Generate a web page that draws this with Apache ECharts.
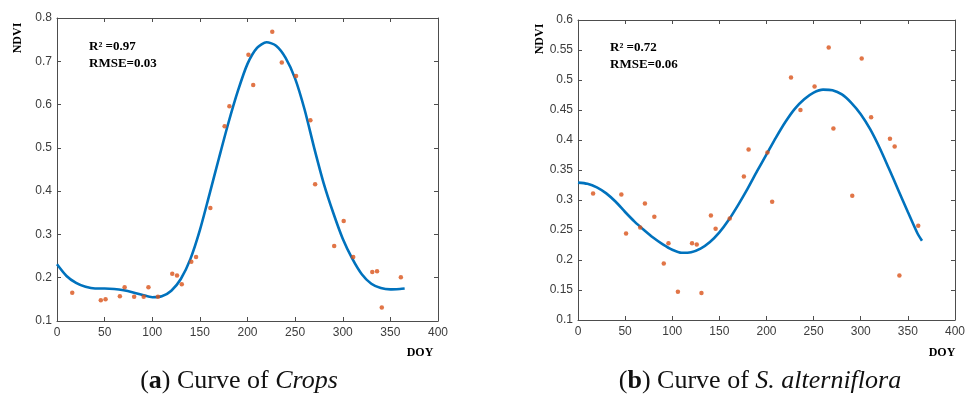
<!DOCTYPE html>
<html>
<head>
<meta charset="utf-8">
<script src="https://cdn.jsdelivr.net/npm/echarts@6/dist/echarts.min.js"></script>
<style>
  html, body { margin: 0; padding: 0; background: #fff; }
  #chart { width: 968px; height: 405px; }
</style>
</head>
<body>
<div id="chart"></div>
<script>
// Observation days (DOY) shared by both panels
const obsDoy = [16, 46, 51, 66, 71, 81, 91, 96, 106, 121, 126, 131, 141, 146, 161, 176, 181,
  201, 206, 226, 236, 251, 266, 271, 291, 301, 311, 331, 336, 341, 361];

// (a) Crops: observed NDVI
const cropsNdvi = [0.165, 0.148, 0.150, 0.157, 0.178, 0.156, 0.156, 0.178, 0.156, 0.209, 0.205,
  0.185, 0.237, 0.248, 0.361, 0.550, 0.596, 0.715, 0.645, 0.768, 0.697, 0.666, 0.564, 0.416,
  0.273, 0.331, 0.248, 0.213, 0.215, 0.131, 0.201];

// (b) S. alterniflora: observed NDVI
const spartinaNdvi = [0.311, 0.309, 0.244, 0.254, 0.294, 0.272, 0.194, 0.228, 0.147, 0.228, 0.226,
  0.145, 0.274, 0.252, 0.269, 0.339, 0.384, 0.379, 0.297, 0.504, 0.450, 0.489, 0.554, 0.419,
  0.307, 0.536, 0.438, 0.402, 0.389, 0.174, 0.257];

// Days at which the fitted curves are sampled
const fitDoy = [0, 10, 20, 30, 40, 50, 60, 70, 80, 90, 100, 110, 120, 130, 140, 150, 160, 170, 180,
  190, 200, 210, 220, 230, 240, 250, 260, 270, 280, 290, 300, 310, 320, 330, 340, 350, 360, 365];

// Fitted NDVI curve, Crops
const cropsFit = [0.231, 0.204, 0.188, 0.179, 0.175, 0.175, 0.174, 0.171, 0.166, 0.160, 0.155,
  0.157, 0.170, 0.197, 0.243, 0.310, 0.392, 0.476, 0.558, 0.632, 0.694, 0.731, 0.744, 0.736,
  0.708, 0.660, 0.588, 0.500, 0.418, 0.350, 0.290, 0.244, 0.208, 0.186, 0.176, 0.173, 0.174, 0.175];

// Fitted NDVI curve, S. alterniflora
const spartinaFit = [0.329, 0.327, 0.321, 0.311, 0.297, 0.280, 0.264, 0.250, 0.237, 0.226, 0.217,
  0.212, 0.213, 0.219, 0.230, 0.246, 0.267, 0.292, 0.319, 0.348, 0.376, 0.404, 0.430, 0.452,
  0.468, 0.479, 0.484, 0.483, 0.476, 0.462, 0.443, 0.418, 0.387, 0.352, 0.316, 0.280, 0.245, 0.232];

// Fit statistics
const cropsStats = ['R\u00B2 =0.97', 'RMSE=0.03'];
const spartinaStats = ['R\u00B2 =0.72', 'RMSE=0.06'];

const pair = (xs, ys) => xs.map((x, i) => [x, ys[i]]);

const AXIS_COLOR = '#4d4d4d';
const LABEL_COLOR = '#3c3c3c';
const LINE_BLUE = '#0072BD';
const DOT_ORANGE = '#D95319';

function mainX(grid) {
  return {
    type: 'value', gridIndex: grid, min: 0, max: 400, interval: 50, position: 'bottom',
    axisLine: { show: true, onZero: false, lineStyle: { color: AXIS_COLOR, width: 1 } },
    axisTick: { show: true, inside: true, length: 4, lineStyle: { color: AXIS_COLOR } },
    axisLabel: { color: LABEL_COLOR, fontFamily: 'Liberation Sans', fontSize: 12, margin: 6 },
    splitLine: { show: false }
  };
}
function topX(grid) {
  return {
    type: 'value', gridIndex: grid, min: 0, max: 400, interval: 50, position: 'top',
    axisLine: { show: true, onZero: false, lineStyle: { color: AXIS_COLOR, width: 1 } },
    axisTick: { show: true, inside: true, length: 4, lineStyle: { color: AXIS_COLOR } },
    axisLabel: { show: false }, splitLine: { show: false }
  };
}
function mainY(grid, min, max, interval) {
  return {
    type: 'value', gridIndex: grid, min, max, interval, position: 'left',
    axisLine: { show: true, onZero: false, lineStyle: { color: AXIS_COLOR, width: 1 } },
    axisTick: { show: true, inside: true, length: 4, lineStyle: { color: AXIS_COLOR } },
    axisLabel: { color: LABEL_COLOR, fontFamily: 'Liberation Sans', fontSize: 12, margin: 5 },
    splitLine: { show: false }
  };
}
function rightY(grid, min, max, interval) {
  return {
    type: 'value', gridIndex: grid, min, max, interval, position: 'right',
    axisLine: { show: true, onZero: false, lineStyle: { color: AXIS_COLOR, width: 1 } },
    axisTick: { show: true, inside: true, length: 4, lineStyle: { color: AXIS_COLOR } },
    axisLabel: { show: false }, splitLine: { show: false }
  };
}

const serifBold = { fontFamily: 'Liberation Serif', fontWeight: 'bold', fill: '#000' };

function label(x, y, text, size, align, rotation) {
  return {
    type: 'text', x, y, rotation: rotation || 0,
    style: Object.assign({ text, fontSize: size, textAlign: align, textVerticalAlign: 'middle' }, serifBold)
  };
}

function caption(x, y, letter, name) {
  const base = { fontFamily: 'Liberation Serif', fontSize: 26, fill: '#111' };
  return {
    type: 'text', x, y,
    style: {
      text: '{n|(}{b|' + letter + '}{n|) Curve of }{i|' + name + '}',
      textAlign: 'center', textVerticalAlign: 'middle',
      rich: {
        n: base,
        b: Object.assign({}, base, { fontWeight: 'bold' }),
        i: Object.assign({}, base, { fontStyle: 'italic' })
      }
    }
  };
}

const chart = echarts.init(document.getElementById('chart'), null, { renderer: 'canvas' });

chart.setOption({
  animation: false,
  backgroundColor: '#fff',
  grid: [
    { left: 57, top: 18, width: 381, height: 303 },
    { left: 578, top: 20, width: 381, height: 300 }
  ],
  xAxis: [mainX(0), mainX(1), topX(0), topX(1)],
  yAxis: [mainY(0, 0.1, 0.8, 0.1), mainY(1, 0.1, 0.6, 0.05), rightY(0, 0.1, 0.8, 0.1), rightY(1, 0.1, 0.6, 0.05)],
  series: [
    {
      type: 'line', xAxisIndex: 0, yAxisIndex: 0, data: pair(fitDoy, cropsFit),
      smooth: 0.25, showSymbol: false, lineStyle: { color: LINE_BLUE, width: 2.6 }, z: 2
    },
    {
      type: 'scatter', xAxisIndex: 0, yAxisIndex: 0, data: pair(obsDoy, cropsNdvi),
      symbolSize: 4.5, itemStyle: { color: DOT_ORANGE }, z: 3
    },
    {
      type: 'line', xAxisIndex: 1, yAxisIndex: 1, data: pair(fitDoy, spartinaFit),
      smooth: 0.25, showSymbol: false, lineStyle: { color: LINE_BLUE, width: 2.6 }, z: 2
    },
    {
      type: 'scatter', xAxisIndex: 1, yAxisIndex: 1, data: pair(obsDoy, spartinaNdvi),
      symbolSize: 4.5, itemStyle: { color: DOT_ORANGE }, z: 3
    }
  ],
  graphic: [
    // axis titles
    label(18, 38, 'NDVI', 12, 'center', Math.PI / 2),
    label(540, 39, 'NDVI', 12, 'center', Math.PI / 2),
    label(420, 353, 'DOY', 12, 'center'),
    label(942, 353, 'DOY', 12, 'center'),
    // fit statistics
    label(89, 47, cropsStats[0], 13, 'left'),
    label(89, 64, cropsStats[1], 13, 'left'),
    label(610, 48, spartinaStats[0], 13, 'left'),
    label(610, 65, spartinaStats[1], 13, 'left'),
    // panel captions
    caption(239, 381, 'a', 'Crops'),
    caption(760, 381, 'b', 'S. alterniflora')
  ]
});
</script>
</body>
</html>
